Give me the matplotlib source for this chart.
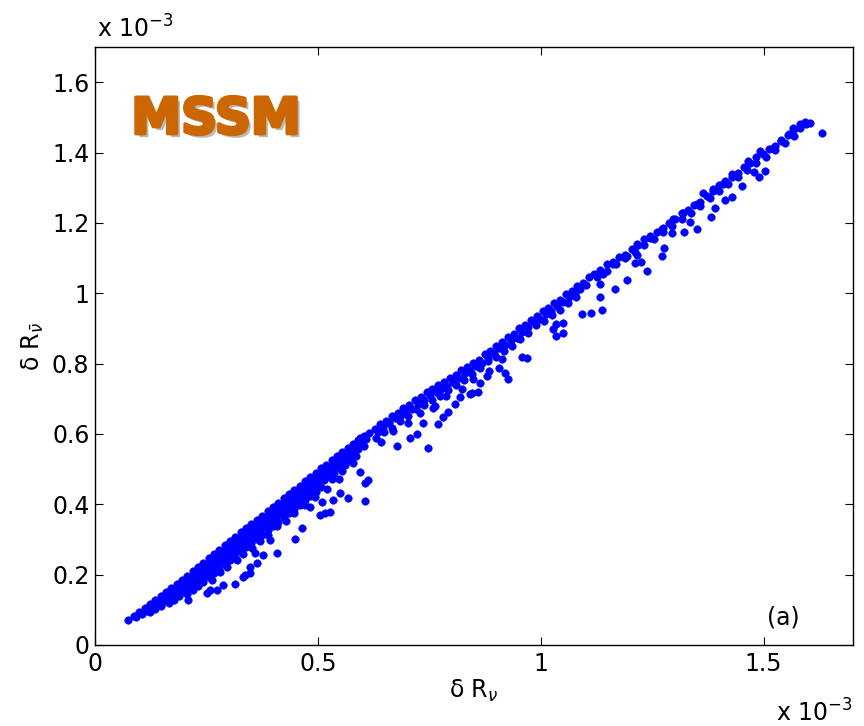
import matplotlib.pyplot as plt
import matplotlib.patheffects as pe
import numpy as np

plt.rcParams['font.family'] = ['DejaVu Sans']
plt.rcParams['mathtext.fontset'] = 'dejavusans'

# all values in units of 1e-3 (x: delta R_nu, y: delta R_nubar)
# lower dense wedge, traced as rows from the upper edge downwards
a0_x = [0.075, 0.087, 0.099, 0.111, 0.123, 0.135, 0.147, 0.159, 0.171, 0.183,
        0.195, 0.207, 0.219, 0.231, 0.243, 0.255, 0.267, 0.279, 0.291, 0.303,
        0.315, 0.327, 0.339, 0.351, 0.363, 0.375, 0.387, 0.399, 0.411, 0.423,
        0.435, 0.447, 0.459, 0.471, 0.483, 0.495, 0.507, 0.519, 0.531, 0.543,
        0.555, 0.567, 0.579, 0.591, 0.603, 0.615]
a0_y = [0.071, 0.082, 0.093, 0.104, 0.116, 0.127, 0.138, 0.150, 0.162, 0.173,
        0.185, 0.197, 0.209, 0.222, 0.234, 0.246, 0.258, 0.270, 0.283, 0.295,
        0.307, 0.320, 0.332, 0.344, 0.356, 0.368, 0.381, 0.393, 0.405, 0.417,
        0.429, 0.441, 0.453, 0.465, 0.478, 0.490, 0.502, 0.513, 0.525, 0.536,
        0.548, 0.559, 0.570, 0.582, 0.593, 0.604]
a1_x = [0.093, 0.105, 0.117, 0.129, 0.141, 0.153, 0.165, 0.177, 0.189, 0.201,
        0.213, 0.225, 0.237, 0.249, 0.261, 0.273, 0.285, 0.297, 0.309, 0.321,
        0.333, 0.345, 0.357, 0.369, 0.381, 0.393, 0.405, 0.417, 0.429, 0.441,
        0.453, 0.465, 0.477, 0.489, 0.501, 0.513, 0.525, 0.537, 0.549, 0.561,
        0.573, 0.585, 0.597, 0.609]
a1_y = [0.080, 0.088, 0.097, 0.108, 0.120, 0.131, 0.143, 0.155, 0.166, 0.178,
        0.190, 0.203, 0.215, 0.227, 0.239, 0.251, 0.264, 0.276, 0.288, 0.300,
        0.313, 0.325, 0.337, 0.349, 0.362, 0.374, 0.386, 0.398, 0.410, 0.422,
        0.434, 0.446, 0.459, 0.471, 0.483, 0.495, 0.506, 0.517, 0.529, 0.540,
        0.552, 0.563, 0.574, 0.586]
a2_x = [0.123, 0.135, 0.147, 0.159, 0.171, 0.183, 0.195, 0.207, 0.219, 0.231,
        0.243, 0.255, 0.267, 0.279, 0.291, 0.303, 0.315, 0.327, 0.339, 0.351,
        0.363, 0.375, 0.387, 0.399, 0.411, 0.423, 0.435, 0.447, 0.459, 0.471,
        0.483, 0.495, 0.507, 0.519, 0.531, 0.543, 0.555, 0.567, 0.579, 0.591,
        0.603]
a2_y = [0.095, 0.103, 0.112, 0.124, 0.136, 0.147, 0.159, 0.171, 0.183, 0.196,
        0.208, 0.220, 0.232, 0.244, 0.257, 0.269, 0.281, 0.294, 0.306, 0.318,
        0.330, 0.342, 0.355, 0.367, 0.379, 0.391, 0.403, 0.415, 0.427, 0.439,
        0.452, 0.464, 0.476, 0.487, 0.499, 0.510, 0.522, 0.533, 0.544, 0.556,
        0.567]
a3_x = [0.165, 0.177, 0.189, 0.201, 0.213, 0.225, 0.237, 0.249, 0.261, 0.273,
        0.285, 0.297, 0.309, 0.321, 0.333, 0.345, 0.357, 0.369, 0.381, 0.393,
        0.405, 0.417, 0.429, 0.441, 0.453, 0.465, 0.477, 0.489, 0.501, 0.513,
        0.525, 0.537, 0.549, 0.561, 0.573, 0.585]
a3_y = [0.118, 0.127, 0.139, 0.151, 0.163, 0.176, 0.188, 0.200, 0.212, 0.224,
        0.237, 0.249, 0.261, 0.273, 0.286, 0.298, 0.310, 0.322, 0.335, 0.347,
        0.359, 0.371, 0.383, 0.395, 0.407, 0.419, 0.432, 0.444, 0.456, 0.468,
        0.479, 0.490, 0.502, 0.513, 0.525, 0.536]
a4_x = [0.207, 0.219, 0.231, 0.243, 0.255, 0.267, 0.279, 0.291, 0.303, 0.315,
        0.327, 0.339, 0.351, 0.363, 0.375, 0.387, 0.399, 0.411, 0.423, 0.435,
        0.447, 0.459, 0.471, 0.483, 0.495, 0.507, 0.531, 0.555, 0.579]
a4_y = [0.145, 0.155, 0.168, 0.180, 0.192, 0.204, 0.216, 0.229, 0.241, 0.253,
        0.266, 0.278, 0.290, 0.302, 0.314, 0.327, 0.339, 0.351, 0.363, 0.375,
        0.387, 0.399, 0.411, 0.424, 0.436, 0.448, 0.471, 0.494, 0.516]
a5_x = [0.262, 0.281, 0.296, 0.318, 0.333, 0.352, 0.371, 0.388, 0.409, 0.428,
        0.447, 0.472, 0.493, 0.521, 0.548]
a5_y = [0.185, 0.207, 0.222, 0.241, 0.259, 0.276, 0.297, 0.312, 0.337, 0.352,
        0.375, 0.398, 0.420, 0.444, 0.472]

# middle part of the band
b0_x = [0.627, 0.640, 0.653, 0.666, 0.679, 0.692, 0.705, 0.718, 0.731, 0.744,
        0.757, 0.770, 0.783, 0.796, 0.809, 0.822, 0.835, 0.848, 0.861, 0.874,
        0.887, 0.900, 0.913, 0.926, 0.939, 0.952, 0.965, 0.978, 0.991, 1.004,
        1.017, 1.030, 1.043, 1.056, 1.069, 1.082, 1.095, 1.108]
b0_y = [0.615, 0.629, 0.638, 0.652, 0.660, 0.674, 0.683, 0.696, 0.704, 0.718,
        0.727, 0.740, 0.747, 0.760, 0.768, 0.781, 0.789, 0.803, 0.811, 0.826,
        0.836, 0.851, 0.860, 0.876, 0.885, 0.900, 0.909, 0.925, 0.934, 0.950,
        0.958, 0.973, 0.982, 0.997, 1.005, 1.021, 1.029, 1.045]
b1_x = [0.634, 0.647, 0.660, 0.673, 0.686, 0.699, 0.712, 0.725, 0.738, 0.751,
        0.764, 0.777, 0.790, 0.803, 0.816, 0.829, 0.842, 0.855, 0.868, 0.881,
        0.894, 0.907, 0.920, 0.933, 0.946, 0.959, 0.972, 0.985, 0.998, 1.011,
        1.024, 1.037, 1.050, 1.063, 1.076, 1.089, 1.102]
b1_y = [0.606, 0.619, 0.631, 0.645, 0.653, 0.664, 0.671, 0.686, 0.697, 0.711,
        0.718, 0.729, 0.736, 0.749, 0.760, 0.774, 0.781, 0.793, 0.801, 0.817,
        0.829, 0.845, 0.854, 0.866, 0.874, 0.891, 0.903, 0.919, 0.928, 0.940,
        0.949, 0.964, 0.975, 0.990, 1.000, 1.012, 1.024]
b2_x = [0.630, 0.648, 0.666, 0.684, 0.702, 0.720, 0.738, 0.756, 0.774, 0.792,
        0.810, 0.828, 0.846, 0.864, 0.882, 0.900, 0.918, 0.936, 0.954, 0.972,
        0.990, 1.008, 1.026, 1.044, 1.062, 1.080]
b2_y = [0.588, 0.605, 0.617, 0.636, 0.652, 0.671, 0.682, 0.697, 0.708, 0.726,
        0.740, 0.752, 0.770, 0.786, 0.807, 0.820, 0.837, 0.850, 0.871, 0.888,
        0.909, 0.922, 0.938, 0.952, 0.971, 0.988]
b3_x = [0.641, 0.668, 0.703, 0.728, 0.762, 0.788, 0.823, 0.848, 0.884, 0.912]
b3_y = [0.576, 0.608, 0.630, 0.660, 0.680, 0.708, 0.727, 0.757, 0.780, 0.813]

# upper thin part of the band
c0_x = [1.120, 1.134, 1.148, 1.162, 1.176, 1.190, 1.204, 1.218, 1.232, 1.246,
        1.260, 1.274, 1.288, 1.302, 1.316, 1.330, 1.344, 1.358, 1.372, 1.386,
        1.400, 1.414, 1.428, 1.442, 1.456, 1.470, 1.484, 1.498, 1.512, 1.526,
        1.540, 1.554, 1.568, 1.582, 1.596]
c0_y = [1.054, 1.066, 1.082, 1.090, 1.102, 1.110, 1.126, 1.138, 1.154, 1.163,
        1.175, 1.184, 1.199, 1.212, 1.228, 1.237, 1.250, 1.259, 1.277, 1.291,
        1.309, 1.318, 1.331, 1.342, 1.358, 1.370, 1.387, 1.395, 1.409, 1.419,
        1.436, 1.449, 1.466, 1.470, 1.481]
c1_x = [1.127, 1.148, 1.169, 1.190, 1.211, 1.232, 1.253, 1.274, 1.295, 1.316,
        1.337, 1.358, 1.379, 1.400, 1.421, 1.442, 1.463, 1.484, 1.505, 1.526,
        1.547, 1.568]
c1_y = [1.046, 1.064, 1.082, 1.100, 1.118, 1.136, 1.155, 1.173, 1.192, 1.211,
        1.229, 1.249, 1.270, 1.291, 1.311, 1.331, 1.350, 1.369, 1.388, 1.408,
        1.428, 1.446]
c2_x = [1.139, 1.161, 1.193, 1.217, 1.244, 1.271, 1.296, 1.318, 1.350, 1.363,
        1.386, 1.408, 1.430, 1.464, 1.491, 1.520, 1.540, 1.558, 1.565, 1.581,
        1.605, 1.592]
c2_y = [1.055, 1.084, 1.106, 1.140, 1.157, 1.183, 1.211, 1.228, 1.254, 1.285,
        1.296, 1.311, 1.339, 1.376, 1.404, 1.413, 1.433, 1.452, 1.470, 1.481,
        1.484, 1.487]

# loose points below the band
out_x = [0.208, 0.251, 0.258, 0.273, 0.287, 0.314, 0.332, 0.336, 0.348, 0.348,
         0.363, 0.377, 0.359, 0.392, 0.408, 0.448, 0.464, 0.482, 0.504, 0.516,
         0.527, 0.509, 0.534, 0.549, 0.567, 0.605, 0.605, 0.612, 0.594, 0.594,
         0.677, 0.706, 0.722, 0.735, 0.747, 0.758, 0.769, 0.780, 0.791, 0.807,
         0.818, 0.841, 0.845, 0.859, 0.863, 0.879, 0.906, 0.919, 0.926, 0.957,
         0.969, 1.027, 1.034, 1.049, 1.034, 1.049, 1.092, 1.112, 1.137, 1.132,
         1.132, 1.166, 1.193, 1.211, 1.239, 1.217, 1.226, 1.271, 1.276, 1.294,
         1.321, 1.334, 1.350, 1.381, 1.390, 1.413, 1.428, 1.451, 1.478, 1.489,
         1.504, 1.630]
out_y = [0.127, 0.147, 0.156, 0.156, 0.170, 0.173, 0.193, 0.199, 0.204, 0.222,
         0.232, 0.255, 0.261, 0.298, 0.261, 0.300, 0.332, 0.392, 0.369, 0.374,
         0.377, 0.406, 0.411, 0.431, 0.417, 0.409, 0.460, 0.468, 0.491, 0.587,
         0.567, 0.587, 0.601, 0.630, 0.559, 0.675, 0.627, 0.647, 0.661, 0.686,
         0.704, 0.713, 0.715, 0.718, 0.746, 0.766, 0.786, 0.772, 0.755, 0.820,
         0.817, 0.899, 0.879, 0.888, 0.913, 0.915, 0.942, 0.945, 0.953, 0.988,
         1.027, 1.013, 1.038, 1.087, 1.064, 1.109, 1.089, 1.106, 1.129, 1.172,
         1.174, 1.203, 1.183, 1.217, 1.243, 1.265, 1.274, 1.305, 1.345, 1.330,
         1.348, 1.455]

x_ticks = [0, 0.5, 1, 1.5]
x_tick_labels = ['0', '0.5', '1', '1.5']
y_ticks = [0, 0.2, 0.4, 0.6, 0.8, 1.0, 1.2, 1.4, 1.6]
y_tick_labels = ['0', '0.2', '0.4', '0.6', '0.8', '1', '1.2', '1.4', '1.6']

xs = np.concatenate([a0_x, a1_x, a2_x, a3_x, a4_x, a5_x, b0_x, b1_x, b2_x, b3_x,
                     c0_x, c1_x, c2_x, out_x])
ys = np.concatenate([a0_y, a1_y, a2_y, a3_y, a4_y, a5_y, b0_y, b1_y, b2_y, b3_y,
                     c0_y, c1_y, c2_y, out_y])

fig = plt.figure(figsize=(8.64, 7.26), dpi=100)
ax = fig.add_axes([0.110, 0.1116, 0.877, 0.8237])
ax.plot(xs, ys, 'o', ls='none', ms=5.4, mfc='#0000ff', mec='#0000ff', mew=0.4)

ax.set_xlim(0, 1.7)
ax.set_ylim(0, 1.7)
ax.set_xticks(x_ticks)
ax.set_xticklabels(x_tick_labels)
ax.set_yticks(y_ticks)
ax.set_yticklabels(y_tick_labels)
ax.tick_params(direction='in', top=True, right=True, length=6, width=0.8,
               labelsize=17)
ax.tick_params(axis='x', pad=5)
ax.tick_params(axis='y', pad=4)
for s in ax.spines.values():
    s.set_linewidth(1.0)

ax.set_xlabel(r'δ R$_{\nu}$', fontsize=17, labelpad=1)
ax.set_ylabel(r'δ R$_{\bar{\nu}}$', fontsize=17, labelpad=4)

fig.text(97 / 864, 1 - 38 / 726, r'x 10$^{-3}$', fontsize=17, ha='left', va='baseline')
fig.text(853 / 864, 1 - 722 / 726, r'x 10$^{-3}$', fontsize=17, ha='right', va='baseline')

ax.text(0.887, 0.035, '(a)', transform=ax.transAxes, fontsize=17, va='baseline')

ax.text(0.048, 0.855, 'MSSM', transform=ax.transAxes, fontsize=36,
        fontweight='bold', color='#cc6600',
        path_effects=[pe.withSimplePatchShadow(offset=(2.5, -2.5),
                                               shadow_rgbFace='#b8b8b8', alpha=1.0),
                      pe.Stroke(linewidth=2.5, foreground='#cc6600'), pe.Normal()])

fig.savefig('out.png', dpi=100)
